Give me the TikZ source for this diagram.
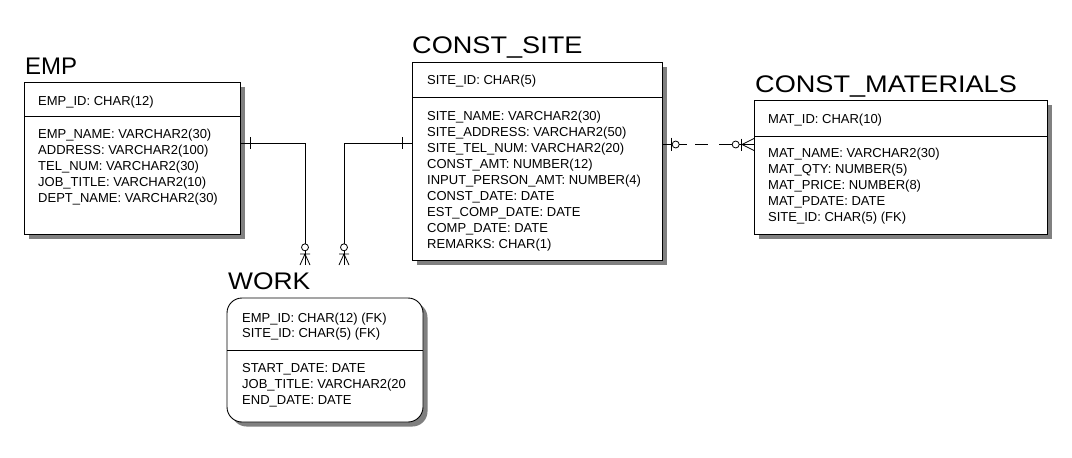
\documentclass[tikz,border=0pt]{standalone}
\usepackage{fontspec}
\setmainfont{Liberation Sans}
\usetikzlibrary{shadows}
\begin{document}
\begin{tikzpicture}[x=1pt,y=-1pt,
  ent/.style={draw, line width=0.9pt, fill=white, anchor=north west, inner sep=0pt, outer sep=0pt,
    drop shadow={shadow xshift=4.5pt, shadow yshift=-4.5pt, opacity=1, fill=black!50}},
  ttl/.style={anchor=base west, inner sep=0pt, font=\fontsize{24}{28}\selectfont},
  attr/.style={anchor=base west, inner sep=0pt, font=\fontsize{13}{15}\selectfont},
  rel/.style={line width=0.8pt}]
\useasboundingbox (0,0) rectangle (1072,458);

\node[ent, minimum width=216pt, minimum height=152pt] (emp) at (24,82) {};
\node[ent, minimum width=250pt, minimum height=198pt] (site) at (412,62) {};
\node[ent, minimum width=293pt, minimum height=134pt] (mat) at (754,100) {};
\node[ent, rounded corners=15pt, minimum width=196pt, minimum height=124pt] (work) at (227,298) {};

\draw[rel] (emp.west |- 0,116) -- (emp.east |- 0,116);
\draw[rel] (site.west |- 0,97.5) -- (site.east |- 0,97.5);
\draw[rel] (mat.west |- 0,136) -- (mat.east |- 0,136);
\draw[rel] (work.west |- 0,350) -- (work.east |- 0,350);

\node[ttl] (empT) at (25,74) {EMP};
\node[ttl] (siteT) at (412,53) {\scalebox{1.13}[1]{CONST\_SITE}};
\node[ttl] (matT) at (755,92) {\scalebox{1.13}[1]{CONST\_MATERIALS}};
\node[ttl] (workT) at (228,289) {\scalebox{1.1}[1]{WORK}};

\node[attr] (empK) at (38,105) {EMP\_ID: CHAR(12)};
\node[attr] (empA1) at (38,138) {EMP\_NAME: VARCHAR2(30)};
\node[attr] (empA2) at (38,154) {ADDRESS: VARCHAR2(100)};
\node[attr] (empA3) at (38,170) {TEL\_NUM: VARCHAR2(30)};
\node[attr] (empA4) at (38,186) {JOB\_TITLE: VARCHAR2(10)};
\node[attr] (empA5) at (38,202) {DEPT\_NAME: VARCHAR2(30)};

\node[attr] (siteK) at (427,84) {SITE\_ID: CHAR(5)};
\node[attr] (siteA1) at (427,120) {SITE\_NAME: VARCHAR2(30)};
\node[attr] (siteA2) at (427,136) {SITE\_ADDRESS: VARCHAR2(50)};
\node[attr] (siteA3) at (427,152) {SITE\_TEL\_NUM: VARCHAR2(20)};
\node[attr] (siteA4) at (427,168) {CONST\_AMT: NUMBER(12)};
\node[attr] (siteA5) at (427,184) {INPUT\_PERSON\_AMT: NUMBER(4)};
\node[attr] (siteA6) at (427,200) {CONST\_DATE: DATE};
\node[attr] (siteA7) at (427,216) {EST\_COMP\_DATE: DATE};
\node[attr] (siteA8) at (427,232) {COMP\_DATE: DATE};
\node[attr] (siteA9) at (427,248) {REMARKS: CHAR(1)};

\node[attr] (matK) at (768,123) {MAT\_ID: CHAR(10)};
\node[attr] (matA1) at (768,157) {MAT\_NAME: VARCHAR2(30)};
\node[attr] (matA2) at (768,173) {MAT\_QTY: NUMBER(5)};
\node[attr] (matA3) at (768,189) {MAT\_PRICE: NUMBER(8)};
\node[attr] (matA4) at (768,205) {MAT\_PDATE: DATE};
\node[attr] (matA5) at (768,221) {SITE\_ID: CHAR(5) (FK)};

\node[attr] (workK1) at (242,322) {EMP\_ID: CHAR(12) (FK)};
\node[attr] (workK2) at (242,337) {SITE\_ID: CHAR(5) (FK)};
\node[attr] (workA1) at (242,372) {START\_DATE: DATE};
\node[attr] (workA2) at (242,388) {JOB\_TITLE: VARCHAR2(20};
\node[attr] (workA3) at (242,404) {END\_DATE: DATE};

\coordinate (we) at (305,265);
\coordinate (ws) at (344,265);

\draw[rel] (emp.east |- 0,143) -| (we);
\draw[rel] (250,137) -- (250,149);
\draw[rel, fill=white] (305,247.3) circle (3.5pt);
\draw[rel] (300,254) -- (310,254) (300,265) -- (305,254) -- (310,265);

\draw[rel] (site.west |- 0,143) -| (ws);
\draw[rel] (402,137) -- (402,149);
\draw[rel, fill=white] (344,247.3) circle (3.5pt);
\draw[rel] (339,254) -- (349,254) (339,265) -- (344,254) -- (349,265);

\draw[rel] (site.east |- 0,144.5) -- (672.2,144.5);
\draw[rel] (671,137.5) -- (671,150.5);
\draw[rel] (675.7,144.5) circle (3.5pt);
\draw[rel, dash pattern=on 8pt off 8pt on 13pt off 11pt on 13pt off 30pt] (679.2,144.5) -- (732.2,144.5);
\draw[rel] (735.7,144.5) circle (3.5pt);
\draw[rel] (739.2,144.5) -- (mat.west |- 0,144.5);
\draw[rel] (741,138.5) -- (741,150.5);
\draw[rel] (754,138.5) -- (742,144.5) -- (754,150.5);
\end{tikzpicture}
\end{document}
